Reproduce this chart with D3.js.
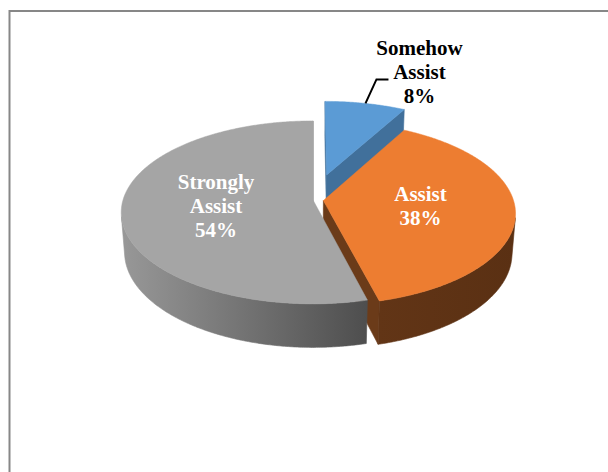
<!DOCTYPE html>
<html>
<head>
<meta charset="utf-8">
<script src="https://cdn.jsdelivr.net/npm/d3@7"></script>
<style>
  html, body { margin: 0; padding: 0; background: #fff; }
  svg { display: block; }
</style>
</head>
<body>
<svg id="chart" width="608" height="472"></svg>
<script>
// ---- data ----
const categories = ["Somehow Assist", "Assist", "Strongly Assist"];
const values = [8, 38, 54];

// ---- styling ----
const topColors  = ["#5B9BD5", "#ED7D31", "#A5A5A5"];
const sideColors = [["#4f86b8", "#3e6b95"], ["#623516", "#5a3013"], ["#989898", "#4e4e4e"]];
const edgeColors = ["#41709b", "#6b3b19", "#707070"];
const explode = { "Somehow Assist": 0.3, "Assist": 0.055 };

// ---- 3D view (pie lies in the X-Z plane, Y up, unit radius) ----
const view = { cx: 313, cy: 200, scale: 190, tilt: 28.2 * Math.PI / 180, dist: 6.5, depth: 0.24 };
const sinT = Math.sin(view.tilt), cosT = Math.cos(view.tilt);
const cam = [0, view.dist * sinT, -view.dist * cosT];

function project(X, Y, Z) {
  const d = Z * cosT - Y * sinT;
  const k = view.dist / (view.dist + d);
  return [view.cx + view.scale * X * k, view.cy - view.scale * (Z * sinT + Y * cosT) * k];
}

const svg = d3.select("#chart");
const defs = svg.append("defs");
const line = d3.line().curve(d3.curveLinearClosed);

// chart area frame
svg.append("rect")
  .attr("x", 9.5).attr("y", 11)
  .attr("width", 640).attr("height", 500)
  .attr("fill", "none")
  .attr("stroke", "#878787")
  .attr("stroke-width", 2);

const rows = categories.map((c, i) => ({ category: c, value: values[i], index: i }));
const arcs = d3.pie().sort(null).value(d => d.value)(rows);
const total = d3.sum(values);
const pct = d3.format(".0%");

const walls = [], tops = [], labels = [];
const h = view.depth;

arcs.forEach(a => {
  const i = a.data.index;
  const name = a.data.category;
  const ex = explode[name] || 0;
  const mid = (a.startAngle + a.endAngle) / 2;
  const ox = ex * Math.sin(mid), oz = ex * Math.cos(mid);
  const P = (r, t, Y) => project(ox + r * Math.sin(t), Y, oz + r * Math.cos(t));
  const depthOf = (r, t, Y) => (oz + r * Math.cos(t)) * cosT - Y * sinT;

  const steps = Math.max(2, Math.ceil((a.endAngle - a.startAngle) / (Math.PI / 360)));
  const angs = d3.range(steps + 1).map(j => a.startAngle + (a.endAngle - a.startAngle) * j / steps);

  // top face
  tops.push({ i, pts: [P(0, 0, 0), ...angs.map(t => P(1, t, 0))], depth: depthOf(0.5, mid, 0) });

  // outer curved wall, only where it faces the camera
  const faces = t => Math.sin(t) * (cam[0] - ox - Math.sin(t)) + Math.cos(t) * (cam[2] - oz - Math.cos(t)) > 0;
  let run = [];
  const flush = () => {
    if (run.length > 1) {
      const pts = [...run.map(t => P(1, t, 0)), ...run.slice().reverse().map(t => P(1, t, -h))];
      const m = run[Math.floor(run.length / 2)];
      walls.push({ i, kind: "outer", pts, depth: depthOf(1, m, -h / 2) });
    }
    run = [];
  };
  angs.forEach(t => { if (faces(t)) run.push(t); else flush(); });
  flush();

  // flat radial walls at both slice edges
  [[a.startAngle, -1], [a.endAngle, 1]].forEach(([t, sgn]) => {
    const nx = sgn * Math.cos(t), nz = -sgn * Math.sin(t);
    const px = ox + 0.5 * Math.sin(t), pz = oz + 0.5 * Math.cos(t);
    const dot = nx * (cam[0] - px) + nz * (cam[2] - pz);
    if (dot > 0) {
      walls.push({ i, kind: "edge", pts: [P(0, t, 0), P(1, t, 0), P(1, t, -h), P(0, t, -h)], depth: depthOf(0.5, t, -h / 2) });
    }
  });

  // labels
  const textLines = [...name.split(" "), pct(a.data.value / total)];
  if (a.data.value / total < 0.1) {
    const anchor = P(1, mid, 0);
    labels.push({ outside: true, anchor, lines: textLines });
  } else {
    labels.push({ outside: false, anchor: P(0.51, mid, 0), lines: textLines });
  }
});

// walls first (back to front), then the top faces
walls.sort((p, q) => q.depth - p.depth);
walls.forEach((w, n) => {
  let fill;
  if (w.kind === "outer") {
    const xs = w.pts.map(p => p[0]);
    const id = "side" + n;
    const g = defs.append("linearGradient").attr("id", id)
      .attr("gradientUnits", "userSpaceOnUse")
      .attr("x1", d3.min(xs)).attr("x2", d3.max(xs)).attr("y1", 0).attr("y2", 0);
    g.append("stop").attr("offset", 0).attr("stop-color", sideColors[w.i][0]);
    g.append("stop").attr("offset", 1).attr("stop-color", sideColors[w.i][1]);
    fill = `url(#${id})`;
  } else {
    fill = edgeColors[w.i];
  }
  svg.append("path")
    .attr("d", line(w.pts))
    .attr("fill", fill)
    .attr("stroke", fill)
    .attr("stroke-width", 0.6)
    .attr("stroke-linejoin", "round");
});

tops.sort((p, q) => q.depth - p.depth);
tops.forEach(t => {
  svg.append("path")
    .attr("d", line(t.pts))
    .attr("fill", topColors[t.i])
    .attr("stroke", topColors[t.i])
    .attr("stroke-width", 0.5);
});

// data labels
const lineGap = 24;
const font = "'Liberation Serif', 'Times New Roman', serif";
labels.forEach(l => {
  let cx, firstBaseline;
  if (l.outside) {
    const [ax, ay] = l.anchor;
    svg.append("path")
      .attr("d", d3.line()([[ax, ay], [ax + 11, ay - 24], [ax + 23, ay - 24]]))
      .attr("fill", "none")
      .attr("stroke", "#000")
      .attr("stroke-width", 2);
    cx = ax + 54;
    firstBaseline = ay - 24.5 - lineGap * (l.lines.length - 1) / 2;
  } else {
    cx = l.anchor[0];
    firstBaseline = l.anchor[1] + 7 - lineGap * (l.lines.length - 1) / 2;
  }
  const text = svg.append("text")
    .attr("text-anchor", "middle")
    .attr("font-family", font)
    .attr("font-weight", "bold")
    .attr("font-size", 21)
    .attr("fill", l.outside ? "#000" : "#fff");
  l.lines.forEach((s, j) => {
    text.append("tspan").attr("x", cx).attr("y", firstBaseline + j * lineGap).text(s);
  });
});
</script>
</body>
</html>
